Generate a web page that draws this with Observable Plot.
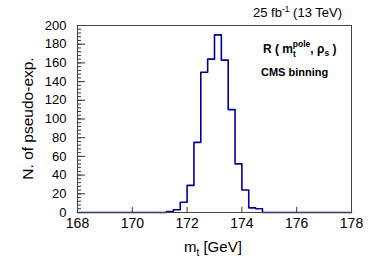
<!DOCTYPE html>
<html><head><meta charset="utf-8">
<script src="https://cdn.jsdelivr.net/npm/d3@7"></script>
<script src="https://cdn.jsdelivr.net/npm/@observablehq/plot@0.6"></script>
<style>body{margin:0;background:#fff} svg{display:block}</style>
</head><body><div id="chart"></div>
<script>
// Histogram of pseudo-experiments (bin width 0.25 GeV)
const binLow = 171.25;
const binWidth = 0.25;
const counts = [1, 3, 11, 29, 75, 150, 164, 190, 163, 110, 52, 24, 5, 4];
const xDomain = [168, 178];
const yDomain = [0, 200];
const xTicks = [168, 170, 172, 174, 176, 178];
const yTicks = [0, 20, 40, 60, 80, 100, 120, 140, 160, 180, 200];
const yMinorTicks = d3.range(0, 201, 4);
const xTitle = ["m", "t", " [GeV]"];
const yTitle = "N. of pseudo-exp.";
const lumi = ["25 fb", "-1", " (13 TeV)"];
const legendLine1 = ["R ( m", "t", "pole", ", ρ", "s", " )"];
const legendLine2 = "CMS binning";

const points = [{x: xDomain[0], y: 0}]
  .concat(counts.map((c, i) => ({x: binLow + i * binWidth, y: c})))
  .concat([{x: binLow + counts.length * binWidth, y: 0}, {x: xDomain[1], y: 0}]);

const font = "'Liberation Sans', Arial, Helvetica, sans-serif";
const lineColor = "#000099";

const plot = Plot.plot({
  width: 390, height: 265,
  marginLeft: 77, marginRight: 39, marginTop: 25, marginBottom: 53,
  style: {fontFamily: font, background: "#fff", color: "#000"},
  x: {domain: xDomain, label: null},
  y: {domain: yDomain, label: null},
  marks: [
    Plot.axisX({ticks: xTicks, tickSize: 0, tickPadding: 6, fontSize: 14, tickFormat: d => String(d), label: null}),
    Plot.axisX({ticks: xTicks, tickSize: -5, text: null, label: null, stroke: "#333"}),
    Plot.axisY({ticks: yTicks, tickSize: 0, tickPadding: 11, fontSize: 13, tickFormat: d => String(d), label: null}),
    Plot.axisY({ticks: yTicks, tickSize: -8, text: null, label: null, stroke: "#333"}),
    Plot.axisY({ticks: yMinorTicks, tickSize: -4, text: null, label: null, stroke: "#333"}),
    Plot.line(points, {x: "x", y: "y", curve: "step-after", stroke: lineColor, strokeWidth: 1.6}),
    Plot.frame({stroke: "#444"})
  ]
});
document.getElementById("chart").appendChild(plot);

const svg = d3.select(plot);
// luminosity label
const t1 = svg.append("text").attr("x", 342).attr("y", 17).attr("text-anchor", "end")
  .attr("font-family", font).attr("font-size", 13).attr("fill", "#000");
t1.append("tspan").text(lumi[0]);
t1.append("tspan").attr("dy", -5).attr("font-size", 8.5).text(lumi[1]);
t1.append("tspan").attr("dy", 5).text(lumi[2]);

// legend text
const t2 = svg.append("text").attr("x", 263).attr("y", 53).attr("text-anchor", "start")
  .attr("font-family", font).attr("font-size", 12).attr("font-weight", "bold").attr("fill", "#000");
t2.append("tspan").text(legendLine1[0]);
t2.append("tspan").attr("dy", 4).attr("font-size", 8.5).text(legendLine1[1]);
t2.append("tspan").attr("dx", -3).attr("dy", -10).attr("font-size", 8.5).text(legendLine1[2]);
t2.append("tspan").attr("dy", 6).text(legendLine1[3]);
t2.append("tspan").attr("dy", 3).attr("font-size", 8.5).text(legendLine1[4]);
t2.append("tspan").attr("dy", -3).text(legendLine1[5]);

svg.append("text").attr("x", 261).attr("y", 76).attr("text-anchor", "start")
  .attr("font-family", font).attr("font-size", 11).attr("font-weight", "bold").attr("fill", "#000")
  .text(legendLine2);

// axis titles
const t3 = svg.append("text").attr("x", 184).attr("y", 252).attr("text-anchor", "start")
  .attr("font-family", font).attr("font-size", 15).attr("fill", "#000");
t3.append("tspan").text(xTitle[0]);
t3.append("tspan").attr("dy", 4).attr("font-size", 10).text(xTitle[1]);
t3.append("tspan").attr("dy", -4).text(xTitle[2]);

svg.append("text").attr("transform", "translate(33,118.5) rotate(-90)")
  .attr("text-anchor", "middle")
  .attr("font-family", font).attr("font-size", 15.5).attr("fill", "#000")
  .text(yTitle);
</script>
</body></html>
